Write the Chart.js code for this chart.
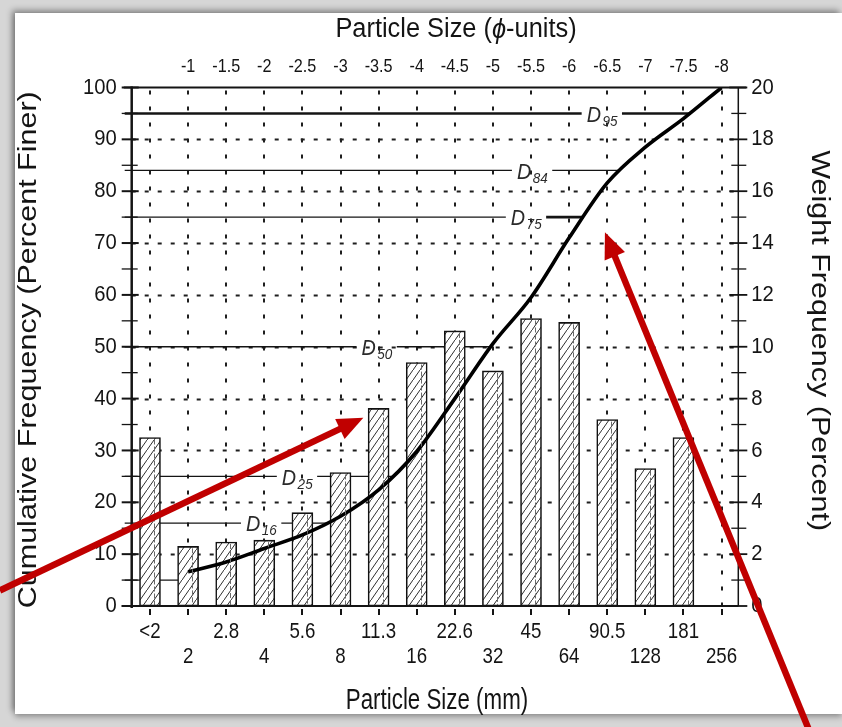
<!DOCTYPE html>
<html><head><meta charset="utf-8">
<script src="https://cdn.jsdelivr.net/npm/chart.js@4.4.1/dist/chart.umd.min.js"></script>
<style>
html,body{margin:0;padding:0;width:842px;height:727px;overflow:hidden;background:#d6d6d6;}
#card{position:absolute;left:15px;top:13px;width:827px;height:701px;background:#fff;box-shadow:-3px -3px 6px rgba(0,0,0,0.35),0 3px 6px rgba(0,0,0,0.3);}
#wrap{position:absolute;left:0;top:0;width:842px;height:727px;}
</style></head><body>
<div id="card"></div>
<div id="wrap"><canvas id="c" width="842" height="727"></canvas></div>
<script>
// ---------- data ----------
const mmLabels = ["<2","2","2.8","4","5.6","8","11.3","16","22.6","32","45","64","90.5","128","181","256"];
const phiLabels = ["-1","-1.5","-2","-2.5","-3","-3.5","-4","-4.5","-5","-5.5","-6","-6.5","-7","-7.5","-8"];
const phiStart = 1;            // first phi label sits on category index 1 (2 mm)
const weightFreq = [6.5,2.3,2.47,2.54,3.6,5.15,7.62,9.39,10.61,9.07,11.09,10.94,7.19,5.3,6.5];
const cumFreq = [6.6,8.5,11.1,13.7,17.3,22.4,29.8,40.0,50.6,59.5,71.0,81.6,88.5,94.0,100];
const cumStart = 1;            // cumulative curve starts at category index 1
const dLevels = [95,84,75,50,25,16,5];
const dNames  = ["95","84","75","50","25","16",""];

// ---------- styling / annotation config ----------
const FONT = '"Liberation Sans", Arial, Helvetica, sans-serif';
const INK = '#141414';
const dLabelAt = {95:11.46, 84:9.63, 75:9.47, 50:5.55, 25:3.46, 16:2.52};
const dWidth = {95:2.6, 84:1.3, 75:1.3, 50:1.5, 25:1.3, 16:1.3, 5:1.3};
const arrows = [
  {from:[-3.94, 3.0], to:[5.6, 36.3]},
  {from:[17.3,-24], to:[11.94, 72.1]}
];

function txt(ctx, s, x, y, o) {
  ctx.save();
  ctx.translate(x, y);
  ctx.scale(o.sx || 1, 1);
  if (o.rot) ctx.rotate(o.rot);
  ctx.font = (o.italic ? 'italic ' : '') + o.size + 'px ' + FONT;
  ctx.textAlign = o.align || 'center';
  ctx.textBaseline = o.base || 'middle';
  ctx.fillStyle = o.color || INK;
  ctx.fillText(s, 0, 0);
  ctx.restore();
}
function measure(ctx, s, size, italic) {
  ctx.save();
  ctx.font = (italic ? 'italic ' : '') + size + 'px ' + FONT;
  const w = ctx.measureText(s).width;
  ctx.restore();
  return w;
}

// hatch pattern for bars
function makeHatch() {
  const c = document.createElement('canvas');
  c.width = 7; c.height = 10;
  const g = c.getContext('2d');
  g.fillStyle = '#fff'; g.fillRect(0, 0, 7, 10);
  g.strokeStyle = '#2e2e2e'; g.lineWidth = 1;
  g.beginPath(); g.moveTo(-0.7, 11); g.lineTo(7.7, -1); g.stroke();
  return document.getElementById('c').getContext('2d').createPattern(c, 'repeat');
}

function curveXAt(p) {
  if (p <= cumFreq[0]) return cumStart;
  for (let j = 1; j < cumFreq.length; j++) {
    if (cumFreq[j] >= p) {
      const t = (p - cumFreq[j-1]) / (cumFreq[j] - cumFreq[j-1]);
      return cumStart + j - 1 + t;
    }
  }
  return cumStart + cumFreq.length - 1;
}

const backPlugin = {
  id: 'back',
  beforeDatasetsDraw(chart) {
    const ctx = chart.ctx, a = chart.chartArea;
    const X = chart.scales.x, Y = chart.scales.y;
    ctx.save();
    ctx.strokeStyle = '#1e1e1e'; ctx.lineWidth = 2; ctx.setLineDash([4, 9]);
    for (let v = 10; v < 100; v += 10) {
      const y = Math.round(Y.getPixelForValue(v)) + 0.5;
      ctx.beginPath(); ctx.moveTo(a.left, y); ctx.lineTo(a.right, y); ctx.stroke();
    }
    ctx.setLineDash([4, 12]);
    for (let i = 0; i < mmLabels.length; i++) {
      const x = Math.round(X.getPixelForValue(i));
      ctx.beginPath(); ctx.moveTo(x, a.top + 3); ctx.lineTo(x, a.bottom); ctx.stroke();
    }
    ctx.setLineDash([]);
    dLevels.forEach((p, k) => {
      const y = Y.getPixelForValue(p);
      const xEnd = X.getPixelForValue(curveXAt(p));
      const x0 = a.left - 7;
      ctx.strokeStyle = INK; ctx.lineWidth = dWidth[p];
      const name = dNames[k];
      if (name) {
        const lx = X.getPixelForValue(dLabelAt[p]);
        const wD = measure(ctx, 'D', 22, true) * 0.9;
        const wS = measure(ctx, name, 15, true) * 0.9;
        ctx.beginPath(); ctx.moveTo(x0, y); ctx.lineTo(lx - 5, y); ctx.stroke();
        if (p === 75) ctx.lineWidth = 2.6;
        ctx.beginPath(); ctx.moveTo(lx + wD + wS + 6, y); ctx.lineTo(xEnd, y); ctx.stroke();
        txt(ctx, 'D', lx, y + 2, {size:22, sx:0.9, italic:true, align:'left', color:'#2a2a2a'});
        txt(ctx, name, lx + wD + 1.5, y + 8, {size:15, sx:0.9, italic:true, align:'left', color:'#2a2a2a'});
      } else {
        ctx.beginPath(); ctx.moveTo(x0, y); ctx.lineTo(xEnd, y); ctx.stroke();
      }
    });
    ctx.restore();
  },
  afterDatasetsDraw(chart) {
    const ctx = chart.ctx, a = chart.chartArea;
    const X = chart.scales.x, Y = chart.scales.y, Y2 = chart.scales.y2;
    ctx.save();
    const meta = chart.getDatasetMeta(1);
    ctx.strokeStyle = '#6a6a6a'; ctx.lineWidth = 1; ctx.setLineDash([5, 2]);
    meta.data.forEach(b => {
      const x = Math.round(b.x + b.width * 0.2) + 0.5;
      ctx.beginPath(); ctx.moveTo(x, b.y + 2); ctx.lineTo(x, b.base - 1); ctx.stroke();
    });
    ctx.setLineDash([]);
    ctx.strokeStyle = INK;
    ctx.lineWidth = 2.5;
    ctx.beginPath(); ctx.moveTo(a.left, a.top - 1); ctx.lineTo(a.left, a.bottom + 2); ctx.stroke();
    ctx.lineWidth = 2;
    ctx.beginPath(); ctx.moveTo(a.left - 10, a.bottom); ctx.lineTo(a.right, a.bottom); ctx.stroke();
    ctx.beginPath(); ctx.moveTo(a.left - 8, a.top); ctx.lineTo(a.right + 8, a.top); ctx.stroke();
    ctx.lineWidth = 1.5;
    ctx.beginPath(); ctx.moveTo(a.right, a.top); ctx.lineTo(a.right, a.bottom); ctx.stroke();
    for (let v = 0; v <= 100; v += 5) {
      const y = Y.getPixelForValue(v);
      const major = v % 10 === 0;
      ctx.lineWidth = major ? 2 : 1.3;
      ctx.beginPath(); ctx.moveTo(a.left - 10, y); ctx.lineTo(a.left + (major ? 7 : 6), y); ctx.stroke();
    }
    for (let v = 0; v <= 20; v += 1) {
      const y = Y2.getPixelForValue(v);
      const major = v % 2 === 0;
      ctx.lineWidth = major ? 1.8 : 1.3;
      ctx.beginPath(); ctx.moveTo(a.right - (major ? 9 : 7), y); ctx.lineTo(a.right + (major ? 9 : 8), y); ctx.stroke();
    }
    ctx.lineWidth = 2;
    for (let i = 0; i < mmLabels.length; i++) {
      const x = Math.round(X.getPixelForValue(i));
      ctx.beginPath(); ctx.moveTo(x, a.bottom + 3); ctx.lineTo(x, a.bottom + 9); ctx.stroke();
    }
    ctx.restore();
  },
  afterDraw(chart) {
    const ctx = chart.ctx, a = chart.chartArea;
    const X = chart.scales.x, Y = chart.scales.y, Y2 = chart.scales.y2;
    for (let v = 0; v <= 100; v += 10) {
      txt(ctx, String(v), a.left - 15, Y.getPixelForValue(v), {size:22, sx:0.92, align:'right'});
    }
    for (let v = 0; v <= 20; v += 2) {
      txt(ctx, String(v), a.right + 13, Y2.getPixelForValue(v), {size:22, sx:0.92, align:'left'});
    }
    mmLabels.forEach((s, i) => {
      const y = i % 2 === 0 ? a.bottom + 26 : a.bottom + 51;
      txt(ctx, s, X.getPixelForValue(i), y, {size:22, sx:0.85});
    });
    phiLabels.forEach((s, k) => {
      txt(ctx, s, X.getPixelForValue(phiStart + k), a.top - 20, {size:18, sx:0.9});
    });
    const cx = (a.left + a.right) / 2, cy = (a.top + a.bottom) / 2;
    txt(ctx, 'Particle Size (mm)', cx + 2, 701, {size:29, sx:0.77});
    const s1 = 'Particle Size (', s2 = '\u03D5', s3 = '-units)';
    const sxT = 0.94, fs = 27;
    const w1 = measure(ctx, s1, fs) * sxT, w2 = measure(ctx, s2, fs, true) * sxT, w3 = measure(ctx, s3, fs) * sxT;
    let tx = 456 - (w1 + w2 + w3) / 2;
    txt(ctx, s1, tx, 30, {size:fs, sx:sxT, align:'left'}); tx += w1;
    txt(ctx, s2, tx, 30, {size:fs, sx:sxT, align:'left', italic:true}); tx += w2;
    txt(ctx, s3, tx, 30, {size:fs, sx:sxT, align:'left'});
    txt(ctx, 'Cumulative Frequency (Percent Finer)', 29, cy + 3, {size:30.5, sx:0.85, rot:-Math.PI/2});
    txt(ctx, 'Weight Frequency (Percent)', 819, cy - 6, {size:30.5, sx:0.85, rot:Math.PI/2});
    ctx.save();
    ctx.strokeStyle = '#c00000'; ctx.fillStyle = '#c00000'; ctx.lineWidth = 6.5;
    arrows.forEach(ar => {
      const x0 = X.getPixelForValue(ar.from[0]), y0 = Y.getPixelForValue(ar.from[1]);
      const x1 = X.getPixelForValue(ar.to[0]), y1 = Y.getPixelForValue(ar.to[1]);
      const ang = Math.atan2(y1 - y0, x1 - x0);
      const L = 26, H = 11;
      const bx = x1 - L * Math.cos(ang), by = y1 - L * Math.sin(ang);
      ctx.beginPath(); ctx.moveTo(x0, y0); ctx.lineTo(bx + 2 * Math.cos(ang), by + 2 * Math.sin(ang)); ctx.stroke();
      ctx.beginPath();
      ctx.moveTo(x1, y1);
      ctx.lineTo(bx + H * Math.sin(ang), by - H * Math.cos(ang));
      ctx.lineTo(bx - H * Math.sin(ang), by + H * Math.cos(ang));
      ctx.closePath(); ctx.fill();
    });
    ctx.restore();
  }
};

const ctx = document.getElementById('c').getContext('2d');
const hatch = makeHatch();
const hidden = {offset:false, grid:{display:false, offset:false}, border:{display:false}, ticks:{display:false}};
new Chart(ctx, {
  data: {
    datasets: [
      {
        type: 'line', label: 'Cumulative Frequency',
        data: cumFreq.map((v, j) => ({x: cumStart + j, y: v})),
        xAxisID: 'x', yAxisID: 'y',
        borderColor: '#000', borderWidth: 3.6, pointRadius: 0, fill: false,
        cubicInterpolationMode: 'monotone', order: 0
      },
      {
        type: 'bar', label: 'Weight Frequency',
        data: weightFreq.map((v, i) => ({x: i, y: v})),
        xAxisID: 'x', yAxisID: 'y2',
        backgroundColor: hatch, borderColor: '#111', borderWidth: 1.6,
        barThickness: 21, borderSkipped: false, order: 1
      }
    ]
  },
  options: {
    responsive: false, animation: false, events: [],
    layout: {padding: 0},
    plugins: {legend: {display: false}, tooltip: {enabled: false}},
    scales: {
      x:    Object.assign({type:'linear', position:'bottom', min:-0.48, max:15.44, afterFit: s => { s.height = 121; }}, hidden),
      xTop: Object.assign({type:'linear', position:'top', min:-0.48, max:15.44, afterFit: s => { s.height = 87.5; }}, hidden),
      y:    Object.assign({type:'linear', position:'left', min:0, max:100, afterFit: s => { s.width = 131.7; }}, hidden),
      y2:   Object.assign({type:'linear', position:'right', min:0, max:20, afterFit: s => { s.width = 103.7; }}, hidden)
    }
  },
  plugins: [backPlugin]
});
</script>
</body></html>
